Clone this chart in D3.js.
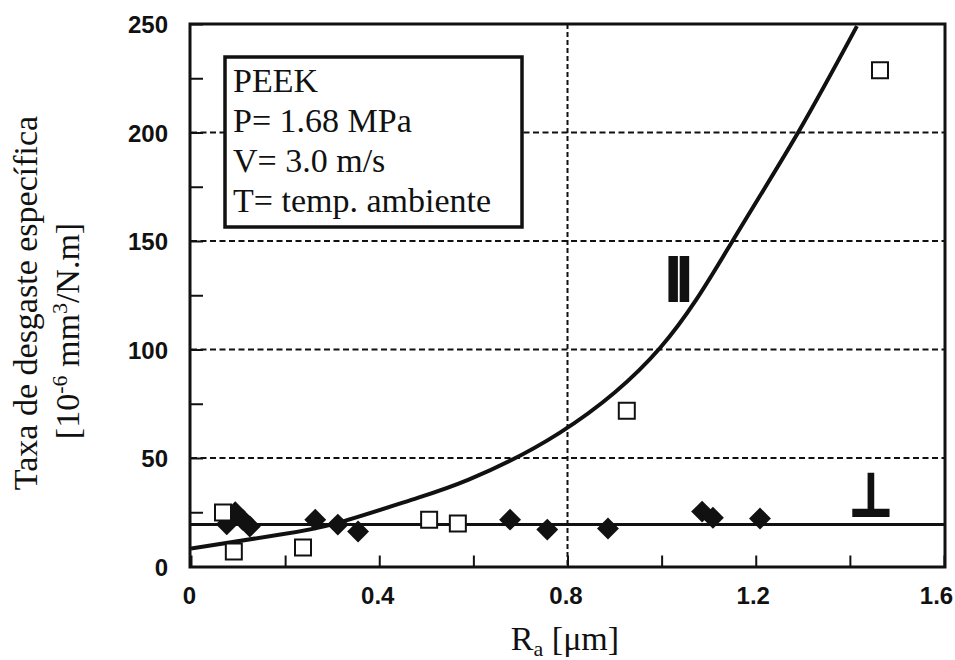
<!DOCTYPE html>
<html><head><meta charset="utf-8">
<script src="https://cdn.jsdelivr.net/npm/d3@7"></script>
<style>body{margin:0;background:#fff}</style>
</head><body>
<svg id="chart" width="955" height="660"></svg>
<script>
// ---- data ----
const xTickValues = [0, 0.2, 0.4, 0.6, 0.8, 1.0, 1.2, 1.4, 1.6];
const xTickLabels = ["0", "0.4", "0.8", "1.2", "1.6"];
const yTickValues = [0, 25, 50, 75, 100, 125, 150, 175, 200, 225, 250];
const yTickLabels = ["0", "50", "100", "150", "200", "250"];
const gridYValues = [50, 100, 150, 200];
const gridXValues = [0.8];

// parallel direction (open squares)
const parRa   = [0.068, 0.091, 0.238, 0.506, 0.567, 0.926, 1.464];
const parRate = [24.9, 6.9, 8.7, 21.6, 19.8, 71.8, 228.7];
// perpendicular direction (filled diamonds)
const perpRa   = [0.076, 0.094, 0.110, 0.125, 0.264, 0.312, 0.355, 0.678, 0.757, 0.886, 1.086, 1.109, 1.209];
const perpRate = [19.5, 25.0, 21.5, 18.4, 21.6, 19.3, 16.1, 21.6, 17.0, 17.5, 25.3, 22.5, 22.1];
// fitted curve for parallel direction
const parCurveRa   = [0, 0.19, 0.31, 0.47, 0.59, 0.784, 0.997, 1.152, 1.290, 1.415];
const parCurveRate = [8.3, 14.7, 20.0, 30.8, 40.0, 61.7, 100.8, 150.5, 200.0, 249.0];
// fitted line for perpendicular direction
const perpLineRa   = [0, 1.6];
const perpLineRate = [19.3, 19.3];

const legendLines = ["PEEK", "P= 1.68 MPa", "V= 3.0 m/s", "T= temp. ambiente"];

// ---- layout ----
const svg = d3.select("#chart");
const L = 191, R = 944, T = 24, B = 566.5;
const x = d3.scaleLinear().domain([0, 1.6]).range([L, R]);
const y = d3.scaleLinear().domain([0, 250]).range([B, T]);
const ink = "#111";
const serif = "'Liberation Serif','Times New Roman',serif";
const sans = "'Liberation Sans',Arial,sans-serif";

svg.append("rect").attr("width", 955).attr("height", 660).attr("fill", "#fff");

// grid
svg.append("g").selectAll("line").data(gridYValues).join("line")
  .attr("x1", L).attr("x2", R).attr("y1", d => y(d)).attr("y2", d => y(d))
  .attr("stroke", ink).attr("stroke-width", 2).attr("stroke-dasharray", "6,3.5");
svg.append("g").selectAll("line").data(gridXValues).join("line")
  .attr("x1", d => x(d)).attr("x2", d => x(d)).attr("y1", T).attr("y2", B)
  .attr("stroke", ink).attr("stroke-width", 2).attr("stroke-dasharray", "5,3");

// axes (inward ticks)
const xAxis = d3.axisBottom(x).tickValues(xTickValues).tickSizeInner(-11).tickSizeOuter(0)
  .tickPadding(20).tickFormat(d => { const i = xTickLabels.indexOf(d3.format(".1~f")(d)); return i >= 0 ? xTickLabels[i] : ""; });
const gx = svg.append("g").attr("transform", `translate(0,${B})`).call(xAxis);
const yAxis = d3.axisLeft(y).tickValues(yTickValues).tickSizeInner(-12).tickSizeOuter(0)
  .tickPadding(23).tickFormat(d => { const i = yTickLabels.indexOf(String(d)); return i >= 0 ? yTickLabels[i] : ""; });
const gy = svg.append("g").attr("transform", `translate(${L},0)`).call(yAxis);
[gx, gy].forEach(g => {
  g.select(".domain").remove();
  g.selectAll(".tick line").attr("stroke", ink).attr("stroke-width", 2);
  g.selectAll(".tick text").attr("fill", ink).style("font-family", sans)
    .style("font-weight", "bold").style("font-size", "24px");
});
gx.selectAll(".tick text").attr("y", 20).attr("dy", "0.71em")
  .attr("dx", d => (d > 1.5 ? -8 : d > 1.1 ? -3 : -2));
gy.selectAll(".tick text").attr("dy", "0.36em");

// frame
svg.append("rect").attr("x", 190).attr("y", T).attr("width", 945 - 190).attr("height", B - T + 0.5)
  .attr("fill", "none").attr("stroke", ink).attr("stroke-width", 3);

// clip
svg.append("clipPath").attr("id", "plotclip").append("rect")
  .attr("x", L).attr("y", T).attr("width", R - L).attr("height", B - T);

const plot = svg.append("g").attr("clip-path", "url(#plotclip)");

// perpendicular line
plot.append("path")
  .datum(perpLineRa.map((d, i) => [d, perpLineRate[i]]))
  .attr("d", d3.line().x(d => x(d[0])).y(d => y(d[1])))
  .attr("fill", "none").attr("stroke", ink).attr("stroke-width", 3);

// parallel curve
plot.append("path")
  .datum(parCurveRa.map((d, i) => [d, parCurveRate[i]]))
  .attr("d", d3.line().curve(d3.curveNatural).x(d => x(d[0])).y(d => y(d[1])))
  .attr("fill", "none").attr("stroke", ink).attr("stroke-width", 4);

// diamonds
const diamondType = { draw(ctx, size) { const r = Math.sqrt(size / 2); ctx.moveTo(0, -r); ctx.lineTo(r, 0); ctx.lineTo(0, r); ctx.lineTo(-r, 0); ctx.closePath(); } };
svg.append("g").selectAll("path").data(perpRa.map((d, i) => [d, perpRate[i]])).join("path")
  .attr("transform", d => `translate(${x(d[0])},${y(d[1])})`)
  .attr("d", d3.symbol().type(diamondType).size(240))
  .attr("fill", ink);

// squares
svg.append("g").selectAll("path").data(parRa.map((d, i) => [d, parRate[i]])).join("path")
  .attr("transform", d => `translate(${x(d[0])},${y(d[1])})`)
  .attr("d", d3.symbol().type(d3.symbolSquare).size(256))
  .attr("fill", "#fff").attr("stroke", ink).attr("stroke-width", 2);

// direction labels
svg.append("text").attr("x", 664).attr("y", 302)
  .style("font-family", sans).style("font-weight", "bold").style("font-size", "66px")
  .attr("letter-spacing", -7).attr("fill", ink).text("II");
svg.append("text").attr("transform", "translate(871,516) scale(0.8,1)").attr("text-anchor", "middle")
  .style("font-family", "'DejaVu Sans',sans-serif").style("font-weight", "bold").style("font-size", "60px")
  .attr("fill", ink).attr("stroke", ink).attr("stroke-width", 2).text("⊥");

// legend box
svg.append("rect").attr("x", 225).attr("y", 57).attr("width", 297).attr("height", 170)
  .attr("fill", "#fff").attr("stroke", ink).attr("stroke-width", 3.5);
svg.append("g").selectAll("text").data(legendLines).join("text")
  .attr("x", 233).attr("y", (d, i) => 92 + i * 40)
  .style("font-family", serif).style("font-size", "34px").attr("fill", ink).text(d => d);

// x title
const xt = svg.append("text").attr("x", 565).attr("y", 650).attr("text-anchor", "middle")
  .style("font-family", serif).style("font-size", "34px").attr("fill", ink);
xt.append("tspan").text("R");
xt.append("tspan").attr("dy", 6).style("font-size", "22px").text("a");
xt.append("tspan").attr("dy", -6).text(" [μm]");

// y title
svg.append("text").attr("transform", "translate(37,303) rotate(-90)").attr("text-anchor", "middle")
  .style("font-family", serif).style("font-size", "34px").attr("fill", ink).text("Taxa de desgaste específica");
const yt2 = svg.append("text").attr("transform", "translate(79,331) rotate(-90)").attr("text-anchor", "middle")
  .style("font-family", serif).style("font-size", "34px").attr("fill", ink);
yt2.append("tspan").text("[10");
yt2.append("tspan").attr("dy", -12).style("font-size", "22px").text("-6");
yt2.append("tspan").attr("dy", 12).text(" mm");
yt2.append("tspan").attr("dy", -12).style("font-size", "22px").text("3");
yt2.append("tspan").attr("dy", 12).text("/N.m]");
</script>
</body></html>
